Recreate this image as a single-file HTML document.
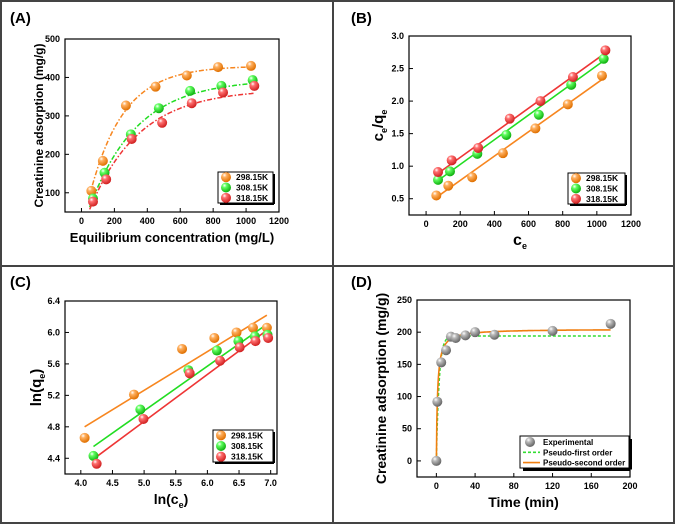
<!DOCTYPE html>
<html><head><meta charset="utf-8"><style>
html,body{margin:0;padding:0;background:#fff;}
svg{display:block;font-family:"Liberation Sans",Arial,sans-serif;}
</style></head><body>
<svg id="fig" width="677" height="524" viewBox="0 0 677 524" xmlns="http://www.w3.org/2000/svg">
<defs>
<radialGradient id="gO" cx="35%" cy="30%" r="70%"><stop offset="0" stop-color="#fff"/><stop offset="0.3" stop-color="#ffb060"/><stop offset="1" stop-color="#e07000"/></radialGradient>
<radialGradient id="gG" cx="35%" cy="30%" r="70%"><stop offset="0" stop-color="#fff"/><stop offset="0.3" stop-color="#60ff60"/><stop offset="1" stop-color="#10b010"/></radialGradient>
<radialGradient id="gR" cx="35%" cy="30%" r="70%"><stop offset="0" stop-color="#fff"/><stop offset="0.3" stop-color="#ff7070"/><stop offset="1" stop-color="#d02020"/></radialGradient>
<radialGradient id="gK" cx="35%" cy="30%" r="70%"><stop offset="0" stop-color="#fff"/><stop offset="0.3" stop-color="#bbb"/><stop offset="1" stop-color="#666"/></radialGradient>
</defs>
<rect x="1" y="1" width="673" height="522" fill="none" stroke="#444" stroke-width="2"/>
<line x1="333" y1="1" x2="333" y2="523" stroke="#444" stroke-width="2"/>
<line x1="1" y1="266" x2="674" y2="266" stroke="#444" stroke-width="2"/>
<g id="root"></g>
</svg>
<script>
// ---- Panel A data ----
const aX_O=[60,130,270,450,640,830,1030], aY_O=[105,183,327,376,405,427,430];
const aX_G=[70,140,300,470,660,850,1040], aY_G=[85,152,252,320,365,378,393];
const aX_R=[70,150,305,490,670,860,1050], aY_R=[77,135,240,282,333,361,378];
const aFitQm=[430,395,370], aFitK=[0.0049,0.00346,0.00333];
const aXTicks=[0,200,400,600,800,1000,1200], aYTicks=[100,200,300,400,500];
// ---- Panel B data ----
const bX_O=[60,130,270,450,640,830,1030], bY_O=[0.55,0.70,0.83,1.20,1.58,1.95,2.39];
const bX_G=[70,140,300,470,660,850,1040], bY_G=[0.79,0.92,1.19,1.48,1.79,2.25,2.65];
const bX_R=[70,150,305,490,670,860,1050], bY_R=[0.91,1.09,1.28,1.73,2.00,2.37,2.78];
const bLineX0=[60,70,70], bLineY0=[0.52,0.78,0.89], bLineX1=[1040,1040,1050], bLineY1=[2.35,2.62,2.74];
const bXTicks=[0,200,400,600,800,1000,1200], bYTicks=[0.5,1.0,1.5,2.0,2.5,3.0];
// ---- Panel C data ----
const cX_O=[4.06,4.84,5.60,6.11,6.46,6.72,6.94], cY_O=[4.66,5.21,5.79,5.93,6.00,6.06,6.06];
const cX_G=[4.20,4.94,5.70,6.15,6.49,6.75,6.95], cY_G=[4.43,5.02,5.52,5.77,5.89,5.95,5.97];
const cX_R=[4.25,4.99,5.72,6.20,6.51,6.76,6.96], cY_R=[4.33,4.90,5.48,5.64,5.81,5.89,5.93];
const cLineX0=[4.06,4.20,4.25], cLineY0=[4.80,4.55,4.42], cLineX1=[6.94,6.95,6.96], cLineY1=[6.22,6.11,6.04];
const cXTicks=[4.0,4.5,5.0,5.5,6.0,6.5,7.0], cYTicks=[4.4,4.8,5.2,5.6,6.0,6.4];
// ---- Panel D data ----
const dTime=[0,1,5,10,15,20,30,40,60,120,180], dQ=[0,92,153,172,193,191,195,200,196,202,213];
const dPFO=[194,0.35], dPSO=[205,0.004];
const dXTicks=[0,40,80,120,160,200], dYTicks=[0,50,100,150,200,250];
const temps=['298.15K','308.15K','318.15K'];

const NS='http://www.w3.org/2000/svg';
const root=document.getElementById('root');
function mk(tag,attrs,parent){const e=document.createElementNS(NS,tag);for(const k in attrs)e.setAttribute(k,attrs[k]);(parent||root).appendChild(e);return e;}
const COL=['#f7861f','#22dd22','#ee3535'], GR=['url(#gO)','url(#gG)','url(#gR)'];

function panel(cfg){
  const g=mk('g',{});
  
  
  const sx=v=>cfg.x0+(v-cfg.xmin)/(cfg.xmax-cfg.xmin)*(cfg.x1-cfg.x0);
  const sy=v=>cfg.y1-(v-cfg.ymin)/(cfg.ymax-cfg.ymin)*(cfg.y1-cfg.y0);
  const lab=mk('text',{x:cfg.lx,y:cfg.ly,'font-size':15,'font-weight':'bold',fill:'#000'},g);
  lab.textContent=cfg.label;
  
  
  cfg.xt.forEach(t=>{const X=sx(t);
    mk('line',{x1:X,y1:cfg.y1,x2:X,y2:cfg.y1-4,stroke:'#000','stroke-width':1},g);
    const tx=mk('text',{x:X,y:cfg.y1+12,'font-size':9,'font-weight':'bold','text-anchor':'middle'},g);
    tx.textContent=cfg.xf(t);
    
    
  });
  cfg.yt.forEach(t=>{const Y=sy(t);
    mk('line',{x1:cfg.x0,y1:Y,x2:cfg.x0+4,y2:Y,stroke:'#000','stroke-width':1},g);
    const tx=mk('text',{x:cfg.x0-5,y:Y+3,'font-size':9,'font-weight':'bold','text-anchor':'end'},g);
    tx.textContent=cfg.yf(t);
    
    
  });
  const xt=mk('text',{x:(cfg.x0+cfg.x1)/2,y:cfg.y1+30,'font-size':cfg.xts||13,'font-weight':'bold','text-anchor':'middle'},g);
  xt.innerHTML=cfg.xtitle;
  
  
  const yt=mk('text',{x:0,y:0,'font-size':cfg.yts||13,'font-weight':'bold','text-anchor':'middle',transform:`translate(${cfg.ytx},${(cfg.y0+cfg.y1)/2}) rotate(-90)`},g);
  yt.innerHTML=cfg.ytitle;
  
  
  const fr=mk('rect',{x:cfg.x0,y:cfg.y0,width:cfg.x1-cfg.x0,height:cfg.y1-cfg.y0,fill:'none',stroke:'#000','stroke-width':1.2},g);
  
  
  return {g,sx,sy};
}
function dot(g,x,y,fill,name){const c=mk('circle',{cx:x,cy:y,r:5,fill:fill},g);
  
  }
function tempLegend(g,x0,y0,x1,y1){
  const r=mk('rect',{x:x0,y:y0,width:x1-x0,height:y1-y0,fill:'#fff',stroke:'#000','stroke-width':1},g);
  
  
  mk('line',{x1:x0+2,y1:y1+1,x2:x1+1,y2:y1+1,stroke:'#000','stroke-width':2},g);
  mk('line',{x1:x1+1,y1:y0+2,x2:x1+1,y2:y1+1,stroke:'#000','stroke-width':2},g);
  const h=(y1-y0)/3;
  temps.forEach((t,i)=>{const cy=y0+h*(i+0.5);
    dot(g,x0+8,cy,GR[i],'legend-marker');
    const tx=mk('text',{x:x0+18,y:cy+3,'font-size':8.5,'font-weight':'bold'},g);tx.textContent=t;
    
    });
}
// Panel A
(function(){
  const p=panel({name:'panel-a',label:'(A)',lx:10,ly:23,x0:65,x1:279,y0:39,y1:212,xmin:-100,xmax:1200,ymin:50,ymax:500,
    xt:aXTicks,yt:aYTicks,xf:v=>v,yf:v=>v,xtitle:'Equilibrium concentration (mg/L)',ytitle:'Creatinine adsorption (mg/g)',ytx:43,yts:12});
  const X=[aX_O,aX_G,aX_R],Y=[aY_O,aY_G,aY_R];
  for(let i=0;i<3;i++){
    let d='';for(let c=50;c<=1050;c+=10){const q=aFitQm[i]*(1-Math.exp(-aFitK[i]*c));d+=(c===50?'M':'L')+p.sx(c).toFixed(1)+','+p.sy(q).toFixed(1);}
    const pa=mk('path',{d:d,fill:'none',stroke:COL[i],'stroke-width':1.5,'stroke-dasharray':'5,2,1.5,2'},p.g);
    
    
  }
  for(let i=0;i<3;i++)X[i].forEach((v,j)=>dot(p.g,p.sx(v),p.sy(Y[i][j]),GR[i],'point-'+temps[i]));
  tempLegend(p.g,218,172,273,203);
})();
// Panel B
(function(){
  const p=panel({name:'panel-b',label:'(B)',lx:351,ly:23,x0:409,x1:631,y0:36,y1:215,xmin:-100,xmax:1200,ymin:0.25,ymax:3.0,
    xt:bXTicks,yt:bYTicks,xf:v=>v,yf:v=>v.toFixed(1),xtitle:'c<tspan font-size="9" dy="4">e</tspan>',ytitle:'c<tspan font-size="9" dy="4">e</tspan><tspan dy="-4">/q</tspan><tspan font-size="9" dy="4">e</tspan>',ytx:383,yts:15,xts:16});
  const X=[bX_O,bX_G,bX_R],Y=[bY_O,bY_G,bY_R];
  for(let i=0;i<3;i++){const l=mk('line',{x1:p.sx(bLineX0[i]),y1:p.sy(bLineY0[i]),x2:p.sx(bLineX1[i]),y2:p.sy(bLineY1[i]),stroke:COL[i],'stroke-width':1.6},p.g);
    
    }
  for(let i=0;i<3;i++)X[i].forEach((v,j)=>dot(p.g,p.sx(v),p.sy(Y[i][j]),GR[i],'point-'+temps[i]));
  tempLegend(p.g,568,173,625,204);
})();
// Panel C
(function(){
  const p=panel({name:'panel-c',label:'(C)',lx:10,ly:287,x0:65,x1:277,y0:301,y1:474,xmin:3.75,xmax:7.1,ymin:4.2,ymax:6.4,
    xt:cXTicks,yt:cYTicks,xf:v=>v.toFixed(1),yf:v=>v.toFixed(1),xtitle:'ln(c<tspan font-size="9" dy="4">e</tspan><tspan dy="-4">)</tspan>',ytitle:'ln(q<tspan font-size="9" dy="4">e</tspan><tspan dy="-4">)</tspan>',ytx:41,yts:15,xts:14});
  const X=[cX_O,cX_G,cX_R],Y=[cY_O,cY_G,cY_R];
  for(let i=0;i<3;i++){const l=mk('line',{x1:p.sx(cLineX0[i]),y1:p.sy(cLineY0[i]),x2:p.sx(cLineX1[i]),y2:p.sy(cLineY1[i]),stroke:COL[i],'stroke-width':1.6},p.g);
    
    }
  for(let i=0;i<3;i++)X[i].forEach((v,j)=>dot(p.g,p.sx(v),p.sy(Y[i][j]),GR[i],'point-'+temps[i]));
  tempLegend(p.g,213,430,273,462);
})();
// Panel D
(function(){
  const p=panel({name:'panel-d',label:'(D)',lx:351,ly:287,x0:417,x1:630,y0:300,y1:477,xmin:-20,xmax:200,ymin:-25,ymax:250,
    xt:dXTicks,yt:dYTicks,xf:v=>v,yf:v=>v,xtitle:'Time (min)',ytitle:'Creatinine adsorption (mg/g)',ytx:386,yts:14,xts:14});
  let d1='',d2='';
  for(let t=0;t<=180;t+=0.5){
    const q1=dPFO[0]*(1-Math.exp(-dPFO[1]*t));
    const q2=dPSO[1]*dPSO[0]*dPSO[0]*t/(1+dPSO[1]*dPSO[0]*t);
    d1+=(t===0?'M':'L')+p.sx(t).toFixed(1)+','+p.sy(q1).toFixed(1);
    d2+=(t===0?'M':'L')+p.sx(t).toFixed(1)+','+p.sy(q2).toFixed(1);
  }
  const l1=mk('path',{d:d1,fill:'none',stroke:'#33dd33','stroke-width':1.5,'stroke-dasharray':'3,2'},p.g);
  
  
  const l2=mk('path',{d:d2,fill:'none',stroke:'#f07f10','stroke-width':1.6},p.g);
  
  
  dTime.forEach((t,j)=>dot(p.g,p.sx(t),p.sy(dQ[j]),'url(#gK)','experimental-point'));
  const x0=520,y0=436,x1=629,y1=468;
  const r=mk('rect',{x:x0,y:y0,width:x1-x0,height:y1-y0,fill:'#fff',stroke:'#000','stroke-width':1},p.g);
  
  
  mk('line',{x1:x0+3,y1:y1+1.5,x2:x1+1.5,y2:y1+1.5,stroke:'#000','stroke-width':3},p.g);
  mk('line',{x1:x1+1.5,y1:y0+3,x2:x1+1.5,y2:y1+1.5,stroke:'#000','stroke-width':3},p.g);
  const names=['Experimental','Pseudo-first order','Pseudo-second order'];
  names.forEach((n,i)=>{const cy=y0+6+i*10.3;
    if(i===0)dot(p.g,x0+10,cy,'url(#gK)','legend-marker');
    else{const l=mk('line',{x1:x0+3,y1:cy,x2:x0+20,y2:cy,stroke:i===1?'#33dd33':'#f07f10','stroke-width':1.6,'stroke-dasharray':i===1?'3,2':'none'},p.g);
      
      }
    const tx=mk('text',{x:x0+23,y:cy+3,'font-size':8,'font-weight':'bold'},p.g);tx.textContent=n;
    
    });
})();
</script>
</body></html>
